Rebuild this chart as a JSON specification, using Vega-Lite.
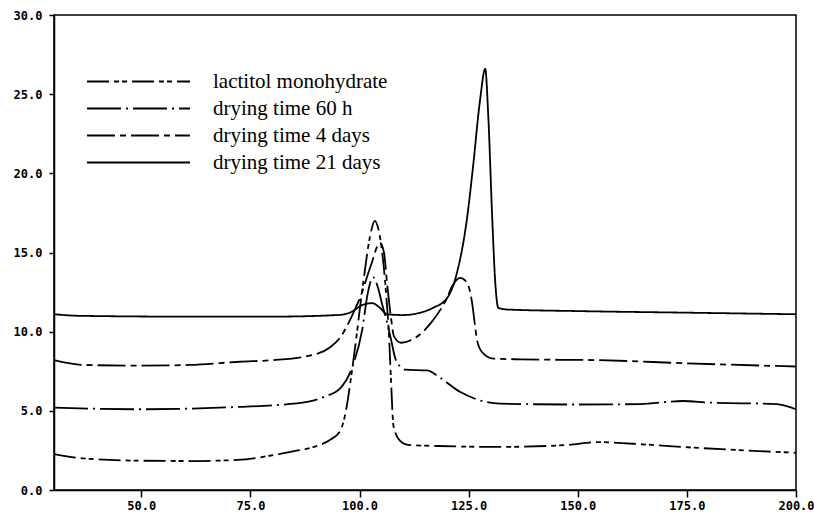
{
  "$schema": "https://vega.github.io/schema/vega-lite/v6.json",
  "width": 742,
  "height": 475,
  "autosize": "none",
  "padding": {"left": 54, "top": 15, "right": 18, "bottom": 30},
  "background": "white",
  "data": {
    "values": [
      {"series": "lactitol monohydrate", "x": 30, "y": 2.27},
      {"series": "lactitol monohydrate", "x": 36.6, "y": 2.0},
      {"series": "lactitol monohydrate", "x": 50, "y": 1.85},
      {"series": "lactitol monohydrate", "x": 61.2, "y": 1.83},
      {"series": "lactitol monohydrate", "x": 72, "y": 1.9},
      {"series": "lactitol monohydrate", "x": 80.2, "y": 2.2},
      {"series": "lactitol monohydrate", "x": 85, "y": 2.45},
      {"series": "lactitol monohydrate", "x": 89.3, "y": 2.7},
      {"series": "lactitol monohydrate", "x": 93.2, "y": 3.16},
      {"series": "lactitol monohydrate", "x": 95.5, "y": 3.7},
      {"series": "lactitol monohydrate", "x": 96.5, "y": 4.5},
      {"series": "lactitol monohydrate", "x": 98.5, "y": 8.0},
      {"series": "lactitol monohydrate", "x": 100.8, "y": 13.0},
      {"series": "lactitol monohydrate", "x": 102.4, "y": 16.0},
      {"series": "lactitol monohydrate", "x": 103.5, "y": 17.0},
      {"series": "lactitol monohydrate", "x": 104.3, "y": 16.5},
      {"series": "lactitol monohydrate", "x": 105.1, "y": 15.2},
      {"series": "lactitol monohydrate", "x": 106.2, "y": 12.0},
      {"series": "lactitol monohydrate", "x": 106.8, "y": 9.5},
      {"series": "lactitol monohydrate", "x": 107.2, "y": 7.0},
      {"series": "lactitol monohydrate", "x": 107.8, "y": 4.0},
      {"series": "lactitol monohydrate", "x": 109.3, "y": 3.1},
      {"series": "lactitol monohydrate", "x": 111.1, "y": 2.85},
      {"series": "lactitol monohydrate", "x": 118, "y": 2.78},
      {"series": "lactitol monohydrate", "x": 132, "y": 2.72},
      {"series": "lactitol monohydrate", "x": 147.5, "y": 2.84},
      {"series": "lactitol monohydrate", "x": 154.4, "y": 3.03},
      {"series": "lactitol monohydrate", "x": 162.6, "y": 2.92},
      {"series": "lactitol monohydrate", "x": 178, "y": 2.65},
      {"series": "lactitol monohydrate", "x": 200, "y": 2.35},

      {"series": "drying time 60 h", "x": 30, "y": 5.2},
      {"series": "drying time 60 h", "x": 50, "y": 5.1},
      {"series": "drying time 60 h", "x": 72.6, "y": 5.25},
      {"series": "drying time 60 h", "x": 80, "y": 5.35},
      {"series": "drying time 60 h", "x": 88, "y": 5.56},
      {"series": "drying time 60 h", "x": 92, "y": 5.9},
      {"series": "drying time 60 h", "x": 95.5, "y": 6.4},
      {"series": "drying time 60 h", "x": 98.5, "y": 7.9},
      {"series": "drying time 60 h", "x": 100.6, "y": 10.1},
      {"series": "drying time 60 h", "x": 101.9, "y": 12.45},
      {"series": "drying time 60 h", "x": 103.1, "y": 13.45},
      {"series": "drying time 60 h", "x": 104.2, "y": 12.8},
      {"series": "drying time 60 h", "x": 105.3, "y": 11.6},
      {"series": "drying time 60 h", "x": 106.3, "y": 10.6},
      {"series": "drying time 60 h", "x": 107.3, "y": 9.4},
      {"series": "drying time 60 h", "x": 108.2, "y": 8.3},
      {"series": "drying time 60 h", "x": 109.3, "y": 7.8},
      {"series": "drying time 60 h", "x": 110.5, "y": 7.6},
      {"series": "drying time 60 h", "x": 115.5, "y": 7.55},
      {"series": "drying time 60 h", "x": 118.4, "y": 7.1},
      {"series": "drying time 60 h", "x": 123, "y": 6.2},
      {"series": "drying time 60 h", "x": 126.9, "y": 5.72},
      {"series": "drying time 60 h", "x": 132.2, "y": 5.45},
      {"series": "drying time 60 h", "x": 150, "y": 5.4},
      {"series": "drying time 60 h", "x": 164.3, "y": 5.43},
      {"series": "drying time 60 h", "x": 174.1, "y": 5.62},
      {"series": "drying time 60 h", "x": 180, "y": 5.52},
      {"series": "drying time 60 h", "x": 195.6, "y": 5.43},
      {"series": "drying time 60 h", "x": 200, "y": 5.1},

      {"series": "drying time 4 days", "x": 30, "y": 8.2},
      {"series": "drying time 4 days", "x": 36.6, "y": 7.9},
      {"series": "drying time 4 days", "x": 50, "y": 7.85},
      {"series": "drying time 4 days", "x": 61.2, "y": 7.9},
      {"series": "drying time 4 days", "x": 72.6, "y": 8.1},
      {"series": "drying time 4 days", "x": 80, "y": 8.2},
      {"series": "drying time 4 days", "x": 88, "y": 8.45},
      {"series": "drying time 4 days", "x": 93.2, "y": 9.0},
      {"series": "drying time 4 days", "x": 95.5, "y": 9.6},
      {"series": "drying time 4 days", "x": 98.6, "y": 11.2},
      {"series": "drying time 4 days", "x": 100.2, "y": 12.2},
      {"series": "drying time 4 days", "x": 102.5, "y": 14.1},
      {"series": "drying time 4 days", "x": 104.7, "y": 15.6},
      {"series": "drying time 4 days", "x": 105.6, "y": 15.0},
      {"series": "drying time 4 days", "x": 106.3, "y": 13.1},
      {"series": "drying time 4 days", "x": 107.2, "y": 10.9},
      {"series": "drying time 4 days", "x": 107.9, "y": 9.7},
      {"series": "drying time 4 days", "x": 109.5, "y": 9.3},
      {"series": "drying time 4 days", "x": 112.7, "y": 9.6},
      {"series": "drying time 4 days", "x": 116.5, "y": 10.6},
      {"series": "drying time 4 days", "x": 119.8, "y": 12.0},
      {"series": "drying time 4 days", "x": 121.3, "y": 12.9},
      {"series": "drying time 4 days", "x": 123, "y": 13.4},
      {"series": "drying time 4 days", "x": 124.6, "y": 13.1},
      {"series": "drying time 4 days", "x": 125.8, "y": 11.8},
      {"series": "drying time 4 days", "x": 126.5, "y": 10.3},
      {"series": "drying time 4 days", "x": 126.9, "y": 9.5},
      {"series": "drying time 4 days", "x": 128.1, "y": 8.7},
      {"series": "drying time 4 days", "x": 130.6, "y": 8.3},
      {"series": "drying time 4 days", "x": 136.8, "y": 8.25},
      {"series": "drying time 4 days", "x": 155, "y": 8.2},
      {"series": "drying time 4 days", "x": 175, "y": 8.0},
      {"series": "drying time 4 days", "x": 200, "y": 7.8},

      {"series": "drying time 21 days", "x": 30, "y": 11.1},
      {"series": "drying time 21 days", "x": 36, "y": 11.0},
      {"series": "drying time 21 days", "x": 60, "y": 10.95},
      {"series": "drying time 21 days", "x": 80, "y": 10.95},
      {"series": "drying time 21 days", "x": 95, "y": 11.05},
      {"series": "drying time 21 days", "x": 97.8, "y": 11.2},
      {"series": "drying time 21 days", "x": 100.8, "y": 11.7},
      {"series": "drying time 21 days", "x": 102.9, "y": 11.8},
      {"series": "drying time 21 days", "x": 104.7, "y": 11.5},
      {"series": "drying time 21 days", "x": 106.3, "y": 11.1},
      {"series": "drying time 21 days", "x": 110, "y": 11.05},
      {"series": "drying time 21 days", "x": 113.2, "y": 11.15},
      {"series": "drying time 21 days", "x": 116.8, "y": 11.5},
      {"series": "drying time 21 days", "x": 120, "y": 12.1},
      {"series": "drying time 21 days", "x": 122.3, "y": 13.7},
      {"series": "drying time 21 days", "x": 124.6, "y": 17.1},
      {"series": "drying time 21 days", "x": 126.0, "y": 20.4},
      {"series": "drying time 21 days", "x": 127.6, "y": 24.6},
      {"series": "drying time 21 days", "x": 128.8, "y": 26.6},
      {"series": "drying time 21 days", "x": 129.5, "y": 23.6},
      {"series": "drying time 21 days", "x": 130.4, "y": 17.2},
      {"series": "drying time 21 days", "x": 131.1, "y": 13.1},
      {"series": "drying time 21 days", "x": 131.8, "y": 11.5},
      {"series": "drying time 21 days", "x": 133.8, "y": 11.4},
      {"series": "drying time 21 days", "x": 150, "y": 11.3},
      {"series": "drying time 21 days", "x": 175, "y": 11.2},
      {"series": "drying time 21 days", "x": 200, "y": 11.1}
    ]
  },
  "mark": {"type": "line", "interpolate": "monotone", "color": "black", "strokeWidth": 1.8},
  "encoding": {
    "x": {
      "field": "x",
      "type": "quantitative",
      "scale": {"domain": [30, 200], "nice": false, "zero": false},
      "axis": {
        "title": null,
        "values": [50, 75, 100, 125, 150, 175, 200],
        "format": ".1f",
        "grid": false,
        "tickSize": 7,
        "tickWidth": 1.5,
        "tickColor": "black",
        "domainColor": "black",
        "domainWidth": 1.5,
        "labelPadding": 3,
        "labelFont": "DejaVu Sans Mono",
        "labelFontSize": 12,
        "labelFontWeight": "bold",
        "labelColor": "black",
        "labelFlush": false,
        "labelOverlap": false
      }
    },
    "y": {
      "field": "y",
      "type": "quantitative",
      "scale": {"domain": [0, 30], "nice": false},
      "axis": {
        "title": null,
        "values": [0, 5, 10, 15, 20, 25, 30],
        "format": ".1f",
        "grid": false,
        "tickSize": 5,
        "tickWidth": 1.5,
        "tickColor": "black",
        "domainColor": "black",
        "domainWidth": 1.5,
        "labelPadding": 7,
        "labelFont": "DejaVu Sans Mono",
        "labelFontSize": 12,
        "labelFontWeight": "bold",
        "labelColor": "black",
        "labelFlush": false,
        "labelOverlap": false
      }
    },
    "strokeDash": {
      "field": "series",
      "type": "nominal",
      "scale": {
        "domain": ["lactitol monohydrate", "drying time 60 h", "drying time 4 days", "drying time 21 days"],
        "range": [[22, 5, 5, 3, 5, 5], [34, 5, 2, 5], [28, 5, 6, 5], [1, 0]]
      },
      "legend": {
        "title": null,
        "orient": "none",
        "legendX": 74,
        "legendY": 56,
        "padding": 0,
        "symbolType": "M-10,0H10",
        "symbolSize": 106,
        "symbolStrokeWidth": 1.8,
        "symbolStrokeColor": "black",
        "symbolFillColor": "transparent",
        "labelOffset": 64,
        "labelFont": "Liberation Serif",
        "labelFontSize": 21,
        "labelColor": "black",
        "labelLimit": 400,
        "rowPadding": 5
      }
    }
  },
  "config": {
    "view": {"stroke": "black", "strokeWidth": 1.5}
  }
}
